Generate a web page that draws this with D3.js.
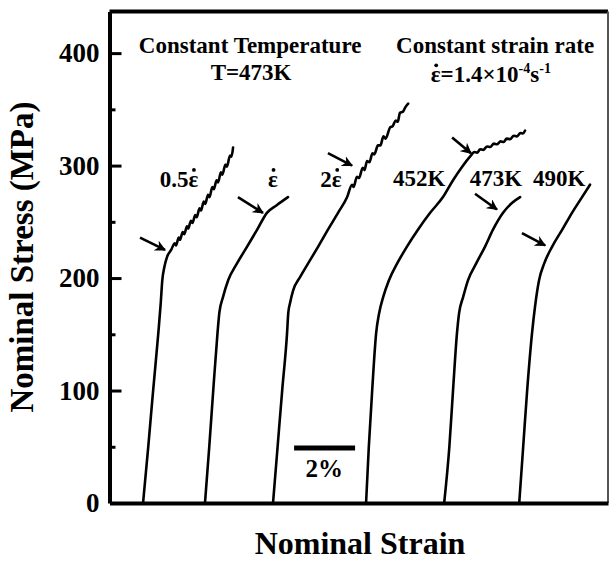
<!DOCTYPE html>
<html>
<head>
<meta charset="utf-8">
<script src="https://cdn.jsdelivr.net/npm/d3@7"></script>
<style>
  body { margin: 0; background: #fff; }
  svg text { font-family: "Liberation Serif", "Times New Roman", serif; font-weight: bold; fill: #000; }
</style>
</head>
<body>
<div class="container"></div>
<script>
// strain (%) / stress (MPa)
let curveNames = ["0.5ε", "ε", "2ε", "452K", "473K", "490K"];

let strain05 = [1.10, 1.27, 1.43, 1.60, 1.68, 1.73, 1.80, 1.89, 2.02, 2.14, 2.18, 2.27, 2.31, 2.40, 2.45, 2.54, 2.58, 2.67, 2.72, 2.81, 2.86, 2.95, 3.00, 3.09, 3.14, 3.23, 3.28, 3.37, 3.42, 3.51, 3.56, 3.65, 3.70, 3.80, 3.85, 3.95, 4.00, 4.05];
let stress05 = [0, 50, 100, 151, 178, 198, 210, 219, 225, 231, 229, 236, 234, 241, 239, 246, 244, 251, 249, 256, 254, 262, 260, 268, 266, 274, 272, 281, 279, 287, 285, 294, 292, 301, 299, 309, 308, 316];

let strain1 = [3.13, 3.27, 3.40, 3.54, 3.60, 3.72, 3.89, 4.18, 4.51, 4.84, 5.16, 5.49, 5.85];
let stress1 = [0, 50, 100, 151, 169, 183, 198, 213, 228, 243, 258, 265, 272];

let strain2 = [5.36, 5.51, 5.66, 5.82, 5.86, 5.92, 6.02, 6.25, 6.51, 6.84, 7.16, 7.49, 7.79, 7.95, 8.00, 8.11, 8.18, 8.30, 8.36, 8.44, 8.52, 8.62, 8.68, 8.80, 8.88, 8.98, 9.05, 9.20, 9.28, 9.38, 9.45, 9.52, 9.62, 9.70, 9.79];
let stress2 = [0, 50, 100, 151, 169, 178, 189, 201, 213, 228, 243, 258, 272, 283, 281, 290, 289, 298, 296, 304, 303, 311, 310, 318, 318, 326, 324, 334, 335, 340, 339, 347, 348, 352, 355];

let strain452 = [8.41, 8.50, 8.61, 8.74, 8.84, 8.97, 9.16, 9.43, 9.75, 10.11, 10.51, 10.93, 11.26, 11.56, 11.85, 11.95, 12.05, 12.15, 12.25, 12.38, 12.48, 12.60, 12.70, 12.82, 12.92, 13.02, 13.13, 13.25, 13.35, 13.47, 13.55, 13.62];
let stress452 = [0, 50, 100, 151, 169, 183, 198, 213, 228, 243, 258, 272, 287, 299, 309, 312, 311.5, 314.5, 314, 317, 316.5, 319.5, 319, 321.5, 321, 324, 323.5, 326.5, 326, 329, 328.5, 331];

let strain473 = [10.97, 11.14, 11.26, 11.39, 11.46, 11.59, 11.75, 12.02, 12.31, 12.57, 12.90, 13.20, 13.46];
let stress473 = [0, 50, 100, 151, 169, 183, 198, 213, 228, 243, 258, 267, 272];

let strain490 = [13.43, 13.56, 13.69, 13.85, 13.95, 14.08, 14.25, 14.51, 14.84, 15.16, 15.49, 15.75];
let stress490 = [0, 50, 100, 151, 175, 198, 213, 228, 243, 258, 272, 283];

// arrows pointing at the onset of serrations: [tailStrain, tailStress, tipStrain, tipStress]
let arrows = [
  [1.00, 236, 1.82, 225],
  [4.21, 272, 5.03, 258],
  [7.16, 311, 7.95, 300],
  [11.23, 325, 11.85, 311],
  [11.98, 275, 12.70, 261],
  [13.52, 240, 14.28, 229]
];

// label anchors (strain, stress)
let labelStrain = [2.28, 5.36, 7.26, 10.15, 12.67, 14.74];
let labelStress = [281, 281, 281, 282, 282, 282];

let majorTicks = [0, 100, 200, 300, 400];
let minorTicks = [50, 150, 250, 350];

let series = [
  [strain05, stress05], [strain1, stress1], [strain2, stress2],
  [strain452, stress452], [strain473, stress473], [strain490, stress490]
].map(([xs, ys]) => xs.map((v, i) => [v, ys[i]]));

let W = 610, H = 562;
let margin = {top: 11.5, right: 2, bottom: 59, left: 109.5};

let x = d3.scaleLinear().domain([0, 16.34]).range([margin.left, W - margin.right]);
let y = d3.scaleLinear().domain([0, 437]).range([H - margin.bottom, margin.top]);

let svg = d3.select(".container").append("svg")
    .attr("width", W)
    .attr("height", H);

svg.append("defs").append("marker")
    .attr("id", "head")
    .attr("viewBox", "0 0 10 10")
    .attr("refX", 9).attr("refY", 5)
    .attr("markerWidth", 4.2).attr("markerHeight", 4.2)
    .attr("markerUnits", "strokeWidth")
    .attr("orient", "auto")
  .append("path")
    .attr("d", "M0,0 L10,5 L0,10 L3,5 Z")
    .attr("fill", "#000");

// puts the rate dot over every epsilon of a text
function dotEps(sel) {
  sel.each(function() {
    let node = this;
    let s = node.textContent;
    for (let i = 0; i < s.length; i++) {
      if (s[i] !== "ε") continue;
      let p = node.getStartPositionOfChar(i);
      let e = node.getExtentOfChar(i);
      svg.append("circle")
          .attr("cx", e.x + e.width / 2 + 0.5)
          .attr("cy", p.y - 17)
          .attr("r", 1.9)
          .attr("fill", "#000");
    }
  });
}

// frame: top and right borders
svg.append("line")
    .attr("x1", x(0)).attr("x2", x(16.34))
    .attr("y1", y(437)).attr("y2", y(437))
    .attr("stroke", "#000").attr("stroke-width", 4);
svg.append("line")
    .attr("x1", x(16.34)).attr("x2", x(16.34))
    .attr("y1", y(437)).attr("y2", y(0))
    .attr("stroke", "#555").attr("stroke-width", 2);

// curves (strain always increases, so monotoneX keeps the knees from overshooting)
let line = d3.line()
    .x(d => x(d[0])).y(d => y(d[1]))
    .curve(d3.curveMonotoneX);
svg.append("g").selectAll("path")
    .data(series)
    .enter().append("path")
    .attr("d", line)
    .attr("fill", "none")
    .attr("stroke", "#000")
    .attr("stroke-width", 2.6)
    .attr("stroke-linejoin", "round")
    .attr("stroke-linecap", "round");

// arrows
svg.append("g").selectAll("line")
    .data(arrows)
    .enter().append("line")
    .attr("x1", d => x(d[0])).attr("y1", d => y(d[1]))
    .attr("x2", d => x(d[2])).attr("y2", d => y(d[3]))
    .attr("stroke", "#000")
    .attr("stroke-width", 2.6)
    .attr("marker-end", "url(#head)");

// curve labels
let labels = svg.append("g").selectAll("text")
    .data(curveNames)
    .enter().append("text")
    .text(d => d)
    .attr("x", (d, i) => x(labelStrain[i]))
    .attr("y", (d, i) => y(labelStress[i]))
    .attr("text-anchor", "middle")
    .style("font-size", "23px");
dotEps(labels);

// y axis
let yAxis = svg.append("g")
    .attr("transform", "translate(" + x(0) + ",0)")
    .call(d3.axisLeft(y).tickValues(majorTicks).tickSize(-12).tickPadding(10).tickSizeOuter(0));
yAxis.select(".domain").attr("stroke-width", 4);
yAxis.selectAll(".tick line").attr("stroke-width", 3);
yAxis.selectAll(".tick text")
    .style("font-size", "27px")
    .style("font-family", "Liberation Serif")
    .style("font-weight", "bold");
yAxis.selectAll(".tick").filter(d => d === 0).select("line").remove();

let yMinor = svg.append("g")
    .attr("transform", "translate(" + x(0) + ",0)")
    .call(d3.axisLeft(y).tickValues(minorTicks).tickSize(-6).tickFormat("").tickSizeOuter(0));
yMinor.select(".domain").remove();
yMinor.selectAll(".tick line").attr("stroke-width", 3);

// x axis (no ticks)
let xAxis = svg.append("g")
    .attr("transform", "translate(0," + y(0) + ")")
    .call(d3.axisBottom(x).tickValues([]).tickSizeOuter(0));
xAxis.select(".domain").attr("stroke-width", 4);

// 2% scale bar
svg.append("line")
    .attr("x1", x(6.05)).attr("x2", x(8.05))
    .attr("y1", y(49)).attr("y2", y(49))
    .attr("stroke", "#000").attr("stroke-width", 5);
svg.append("text")
    .text("2%")
    .attr("x", x(7.04)).attr("y", y(23))
    .attr("text-anchor", "middle")
    .style("font-size", "25px");

// condition headers
svg.append("text")
    .text("Constant Temperature")
    .attr("x", x(4.61)).attr("y", y(400))
    .attr("text-anchor", "middle")
    .style("font-size", "23px");
svg.append("text")
    .text("T=473K")
    .attr("x", x(4.64)).attr("y", y(376))
    .attr("text-anchor", "middle")
    .style("font-size", "23px");
svg.append("text")
    .text("Constant strain rate")
    .attr("x", x(12.64)).attr("y", y(400))
    .attr("text-anchor", "middle")
    .style("font-size", "23px");
let rate = svg.append("text")
    .attr("x", x(12.5)).attr("y", y(374))
    .attr("text-anchor", "middle")
    .style("font-size", "23px");
rate.append("tspan").text("ε=1.4×10");
rate.append("tspan").text("-4").style("font-size", "14px").attr("dy", -9);
rate.append("tspan").text("s").attr("dy", 9);
rate.append("tspan").text("-1").style("font-size", "14px").attr("dy", -9);
dotEps(rate);

// axis titles
svg.append("text")
    .text("Nominal Strain")
    .attr("x", 360).attr("y", 554)
    .attr("text-anchor", "middle")
    .style("font-size", "32px");
svg.append("text")
    .text("Nominal Stress (MPa)")
    .attr("transform", "translate(33,257) rotate(-90)")
    .attr("text-anchor", "middle")
    .style("font-size", "33px");
</script>
</body>
</html>
